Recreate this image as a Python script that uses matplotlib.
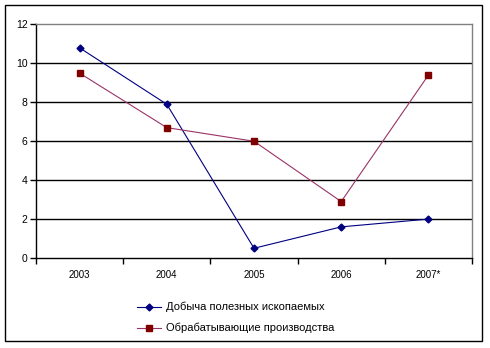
import matplotlib
matplotlib.use("Agg")
import matplotlib.pyplot as plt
from matplotlib.patches import Rectangle

plt.rcParams['font.family'] = ['Liberation Sans', 'DejaVu Sans']

years = ["2003", "2004", "2005", "2006", "2007*"]
mining = [10.8, 7.9, 0.5, 1.6, 2.0]
manufacturing = [9.5, 6.7, 6.0, 2.9, 9.4]
mining_label = "Добыча полезных ископаемых"
manufacturing_label = "Обрабатывающие производства"

fig = plt.figure(figsize=(4.9, 3.48), dpi=100)
fig.patch.set_facecolor("white")

# outer chart frame
fig.patches.append(Rectangle((4.5 / 490, 1 - 340.5 / 348), 477 / 490, 336 / 348,
                             transform=fig.transFigure, fill=False,
                             edgecolor="black", linewidth=1.0))

ax = fig.add_axes([36 / 490, (348 - 258) / 348, 436 / 490, 233.5 / 348])
x = list(range(len(years)))

ax.plot(x, mining, color="#000080", linewidth=0.8, marker="D", markersize=3.5,
        markerfacecolor="#000080", markeredgecolor="#000080", label=mining_label, zorder=3)
ax.plot(x, manufacturing, color="#993366", linewidth=0.8, marker="s", markersize=4.5,
        markerfacecolor="#800000", markeredgecolor="#800000", label=manufacturing_label, zorder=3)

ax.set_xlim(-0.5, len(years) - 0.5)
ax.set_ylim(0, 12)
yticks = list(range(0, 13, 2))
ax.set_yticks(yticks)
# horizontal gridlines, the top edge is left to the grey plot-area border
for yv in yticks[1:-1]:
    ax.axhline(yv, color="black", linewidth=1.0, zorder=1)

ax.set_xticks(x)
ax.set_xticklabels(years)
ax.set_xticks([i - 0.5 for i in range(len(years) + 1)], minor=True)
ax.tick_params(axis="x", which="major", length=0, labelsize=7, pad=9)
ax.tick_params(axis="x", which="minor", length=4, width=1, direction="out")
ax.tick_params(axis="y", length=4, width=1, direction="out", labelsize=7.5, pad=2)

for s in ("left", "bottom"):
    ax.spines[s].set_color("black")
    ax.spines[s].set_linewidth(1.0)
for s in ("top", "right"):
    ax.spines[s].set_color("#808080")
    ax.spines[s].set_linewidth(1.0)

fig.legend(loc="upper left", bbox_to_anchor=(137 / 490, 1 - 302 / 348), frameon=False,
           fontsize=8, handlelength=2.2, handletextpad=0.45, labelspacing=0.95,
           borderaxespad=0, borderpad=0)

fig.savefig("out.png", dpi=100, facecolor="white")
